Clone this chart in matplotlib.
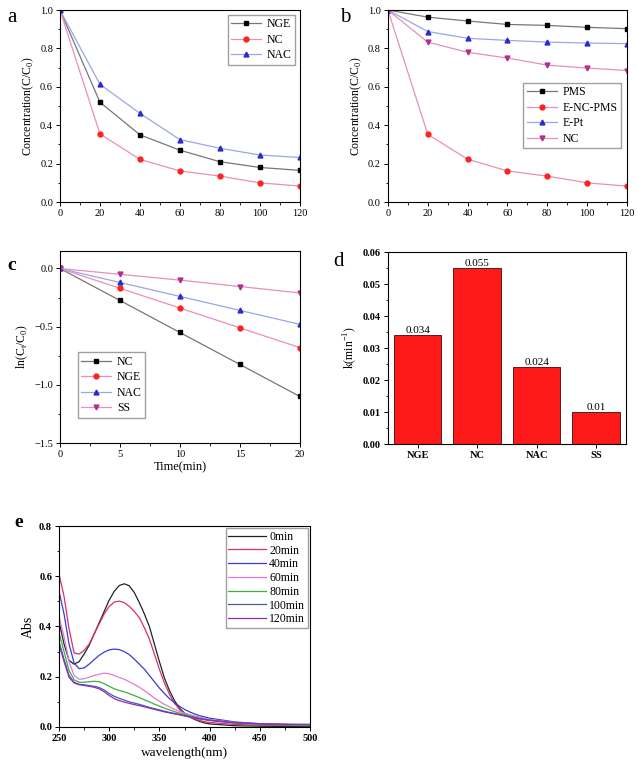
import numpy as np
import matplotlib
matplotlib.use("Agg")
import matplotlib.pyplot as plt
from matplotlib.ticker import AutoMinorLocator

plt.rcParams['font.family'] = ['Liberation Serif', 'DejaVu Serif']
plt.rcParams['mathtext.fontset'] = 'custom'
plt.rcParams['mathtext.rm'] = 'Liberation Serif'
plt.rcParams['xtick.direction'] = 'out'
plt.rcParams['ytick.direction'] = 'out'
plt.rcParams['axes.linewidth'] = 0.8

# (a) concentration vs time
t_a = [0, 20, 40, 60, 80, 100, 120]
a_nge = [1.0, 0.52, 0.35, 0.27, 0.21, 0.18, 0.165]
a_nc = [1.0, 0.355, 0.222, 0.162, 0.135, 0.10, 0.083]
a_nac = [1.0, 0.613, 0.462, 0.325, 0.28, 0.245, 0.232]

# (b) control experiments
b_pms = [1.0, 0.963, 0.943, 0.925, 0.92, 0.91, 0.903]
b_encpms = [1.0, 0.353, 0.223, 0.162, 0.135, 0.10, 0.083]
b_ept = [1.0, 0.888, 0.853, 0.842, 0.833, 0.828, 0.825]
b_nc = [1.0, 0.833, 0.78, 0.75, 0.713, 0.698, 0.685]

# (c) kinetics
t_c = [0, 5, 10, 15, 20]
c_nc = [0, -0.275, -0.55, -0.825, -1.1]
c_nge = [0, -0.17, -0.34, -0.51, -0.68]
c_nac = [0, -0.12, -0.24, -0.36, -0.48]
c_ss = [0, -0.05, -0.10, -0.155, -0.21]

# (d) rate constants
d_names = ["NGE", "NC", "NAC", "SS"]
d_k = [0.034, 0.055, 0.024, 0.01]
d_lbl = ["0.034", "0.055", "0.024", "0.01"]

# (e) UV-vis spectra
wl = [250, 255, 260, 265, 270, 275, 280, 285, 290, 295, 300, 305, 310, 315, 320,
      325, 330, 335, 340, 345, 350, 355, 360, 365, 370, 375, 380, 385, 390, 395,
      400, 425, 450, 475, 500]
e_0 = [0.42, 0.33, 0.265, 0.25, 0.26, 0.29, 0.325, 0.37, 0.415, 0.46, 0.505, 0.54,
       0.563, 0.57, 0.562, 0.535, 0.495, 0.45, 0.40, 0.33, 0.26, 0.195, 0.145, 0.105,
       0.075, 0.055, 0.04, 0.03, 0.022, 0.016, 0.012, 0.005, 0.003, 0.002, 0.002]
e_20 = [0.61, 0.52, 0.39, 0.295, 0.29, 0.305, 0.33, 0.37, 0.41, 0.45, 0.48, 0.497,
        0.501, 0.495, 0.48, 0.46, 0.435, 0.395, 0.35, 0.29, 0.23, 0.175, 0.13, 0.095,
        0.07, 0.052, 0.04, 0.032, 0.026, 0.021, 0.018, 0.01, 0.007, 0.006, 0.005]
e_40 = [0.54, 0.45, 0.33, 0.255, 0.232, 0.235, 0.25, 0.268, 0.285, 0.298, 0.307, 0.31,
        0.308, 0.30, 0.288, 0.27, 0.25, 0.23, 0.205, 0.18, 0.155, 0.133, 0.113, 0.096,
        0.082, 0.07, 0.06, 0.052, 0.045, 0.04, 0.035, 0.02, 0.013, 0.01, 0.008]
e_60 = [0.44, 0.36, 0.26, 0.205, 0.19, 0.192, 0.198, 0.205, 0.21, 0.214, 0.212, 0.205,
        0.197, 0.19, 0.18, 0.17, 0.158, 0.145, 0.13, 0.115, 0.102, 0.09, 0.08, 0.07,
        0.062, 0.055, 0.049, 0.044, 0.039, 0.034, 0.03, 0.018, 0.012, 0.01, 0.008]
e_80 = [0.375, 0.30, 0.225, 0.188, 0.178, 0.178, 0.18, 0.182, 0.18, 0.172, 0.162, 0.152,
        0.145, 0.14, 0.133, 0.125, 0.117, 0.108, 0.10, 0.091, 0.083, 0.075, 0.068, 0.061,
        0.055, 0.05, 0.045, 0.04, 0.035, 0.031, 0.027, 0.015, 0.01, 0.008, 0.006]
e_100 = [0.34, 0.27, 0.205, 0.178, 0.17, 0.168, 0.165, 0.162, 0.157, 0.147, 0.133, 0.122,
         0.114, 0.107, 0.10, 0.095, 0.09, 0.084, 0.078, 0.073, 0.068, 0.063, 0.058, 0.054,
         0.05, 0.045, 0.04, 0.036, 0.032, 0.029, 0.026, 0.016, 0.012, 0.01, 0.01]
e_120 = [0.33, 0.26, 0.198, 0.175, 0.168, 0.165, 0.162, 0.158, 0.152, 0.14, 0.125, 0.113,
         0.105, 0.099, 0.094, 0.089, 0.085, 0.08, 0.075, 0.07, 0.065, 0.06, 0.056, 0.052,
         0.048, 0.044, 0.04, 0.037, 0.033, 0.03, 0.027, 0.018, 0.013, 0.011, 0.01]
e_labels = ["0min", "20min", "40min", "60min", "80min", "100min", "120min"]
e_colors = ["#222222", "#d8306e", "#3a3ad8", "#e07ad6", "#3cb043", "#4a5aa8", "#8a30b8"]

TS = 7.5   # tick font size
LS = 8.5   # label font size


def style(ax, bold=False):
    ax.xaxis.set_minor_locator(AutoMinorLocator(2))
    ax.yaxis.set_minor_locator(AutoMinorLocator(2))
    ax.tick_params(which='major', length=3, width=0.7, labelsize=TS, pad=2)
    ax.tick_params(which='minor', length=1.8, width=0.6)
    if bold:
        for lab in ax.get_xticklabels() + ax.get_yticklabels():
            lab.set_fontweight('bold')


def series(ax, x, y, lc, mc, mk, label):
    ax.plot(x, y, color=lc, lw=0.9, marker=mk, ms=3.5, mfc=mc, mec=mc, label=label)


def leg(ax, **kw):
    ax.legend(fontsize=8.5, frameon=True, fancybox=False, edgecolor='#888888',
              handlelength=2.5, borderpad=0.3, labelspacing=0.3, handletextpad=0.5, **kw)


fig = plt.figure(figsize=(6.38, 7.67), dpi=100)

# a
ax = fig.add_axes([0.094, 0.7366, 0.376, 0.2503])
series(ax, t_a, a_nge, "#777777", "black", "s", "NGE")
series(ax, t_a, a_nc, "#e890b8", "#ff2020", "o", "NC")
series(ax, t_a, a_nac, "#9aa6e8", "#2a2ad0", "^", "NAC")
ax.set_xlim(0, 120)
ax.set_ylim(0, 1.0)
ax.set_xticks(range(0, 121, 20))
ax.set_yticks(np.arange(0, 1.01, 0.2))
ax.set_ylabel(r"Concentration(C/C$_\mathregular{0}$)", fontsize=LS, labelpad=3)
style(ax)
leg(ax, loc='upper right', borderaxespad=0.4)
fig.text(0.012, 0.99, "a", fontsize=15, va='top')

# b
ax = fig.add_axes([0.608, 0.7366, 0.3746, 0.2503])
series(ax, t_a, b_pms, "#777777", "black", "s", "PMS")
series(ax, t_a, b_encpms, "#e890b8", "#ff2020", "o", "E-NC-PMS")
series(ax, t_a, b_ept, "#9aa6e8", "#2a2ad0", "^", "E-Pt")
series(ax, t_a, b_nc, "#e890b8", "#b0308f", "v", "NC")
ax.set_xlim(0, 120)
ax.set_ylim(0, 1.0)
ax.set_xticks(range(0, 121, 20))
ax.set_yticks(np.arange(0, 1.01, 0.2))
ax.set_ylabel(r"Concentration(C/C$_\mathregular{0}$)", fontsize=LS, labelpad=3)
style(ax)
leg(ax, loc='center right', bbox_to_anchor=(1.0, 0.45))
fig.text(0.533, 0.99, "b", fontsize=15, va='top')

# c
ax = fig.add_axes([0.094, 0.4224, 0.376, 0.2503])
series(ax, t_c, c_nc, "#777777", "black", "s", "NC")
series(ax, t_c, c_nge, "#e890b8", "#ff2020", "o", "NGE")
series(ax, t_c, c_nac, "#9aa6e8", "#2a2ad0", "^", "NAC")
series(ax, t_c, c_ss, "#e890b8", "#b0308f", "v", "SS")
ax.set_xlim(0, 20)
ax.set_ylim(-1.5, 0.15)
ax.set_xticks(range(0, 21, 5))
ax.set_yticks([-1.5, -1.0, -0.5, 0.0])
ax.set_xlabel("Time(min)", fontsize=LS + 0.5, labelpad=2)
ax.set_ylabel(r"ln(C$_\mathregular{t}$/C$_\mathregular{0}$)", fontsize=LS, labelpad=3)
style(ax)
leg(ax, loc='lower left', bbox_to_anchor=(0.05, 0.1))
fig.text(0.012, 0.665, "c", fontsize=14, fontweight='bold', va='top')

# d
ax = fig.add_axes([0.608, 0.4211, 0.373, 0.2503])
x = np.arange(len(d_names))
bars = ax.bar(x, d_k, width=0.8, color="#ff1a1a", edgecolor="#5a1a1a", linewidth=0.7)
for b, s in zip(bars, d_lbl):
    ax.text(b.get_x() + b.get_width() / 2, b.get_height(), s, ha='center', va='bottom',
            fontsize=8)
ax.set_xlim(-0.5, 3.5)
ax.set_ylim(0, 0.06)
ax.set_xticks(x)
ax.set_xticklabels(d_names)
ax.set_yticks(np.arange(0, 0.061, 0.01))
ax.set_yticklabels(["%.2f" % v for v in np.arange(0, 0.061, 0.01)])
ax.set_ylabel(r"k(min$^\mathregular{-1}$)", fontsize=LS, labelpad=3)
style(ax, bold=True)
ax.xaxis.set_minor_locator(plt.NullLocator())
fig.text(0.522, 0.672, "d", fontsize=15, va='top')

# e
ax = fig.add_axes([0.0925, 0.0522, 0.3934, 0.262])
for y, lab, c in zip([e_0, e_20, e_40, e_60, e_80, e_100, e_120], e_labels, e_colors):
    ax.plot(wl, y, color=c, lw=0.9, label=lab)
ax.set_xlim(250, 500)
ax.set_ylim(0, 0.8)
ax.set_xticks(range(250, 501, 50))
ax.set_yticks(np.arange(0, 0.81, 0.2))
ax.set_xlabel("wavelength(nm)", fontsize=9.5, labelpad=3)
ax.set_ylabel("Abs", fontsize=10, labelpad=3)
style(ax, bold=True)
ax.legend(loc='upper right', fontsize=8.5, frameon=True, fancybox=False,
          edgecolor='#888888', handlelength=3.2, borderpad=0.2, labelspacing=0.15,
          borderaxespad=0.2, handletextpad=0.3)
fig.text(0.022, 0.33, "e", fontsize=14, fontweight='bold', va='top')

fig.savefig("out.png", dpi=100)
